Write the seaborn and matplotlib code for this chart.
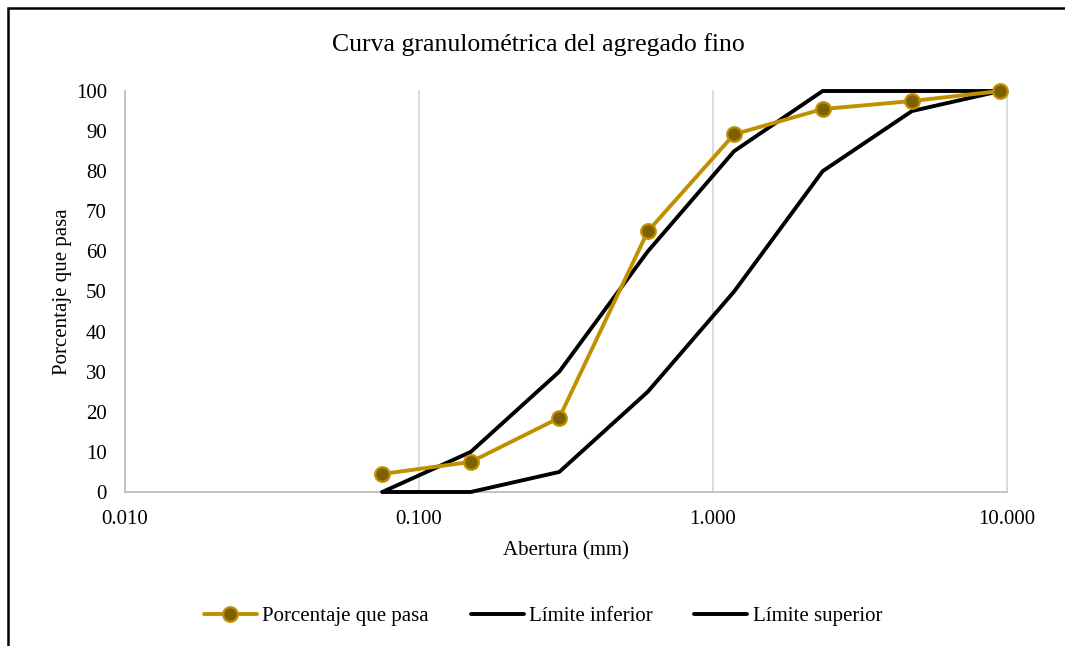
import matplotlib
matplotlib.use("Agg")
import matplotlib.pyplot as plt
import seaborn as sns
import pandas as pd
from matplotlib.lines import Line2D
from matplotlib.patches import Rectangle

sns.set_theme(style="white")
plt.rcParams['font.family'] = ['Liberation Serif', 'DejaVu Serif']
plt.rcParams['text.color'] = 'black'
plt.rcParams['axes.labelcolor'] = 'black'

abertura = [0.075, 0.15, 0.3, 0.6, 1.18, 2.36, 4.75, 9.5]
porcentaje = [4.5, 7.5, 18.5, 65.0, 89.2, 95.5, 97.5, 100.0]
limite_inferior = [0, 0, 5, 25, 50, 80, 95, 100]
limite_superior = [0, 10, 30, 60, 85, 100, 100, 100]
x_ticks = [0.01, 0.1, 1, 10]
x_tick_labels = ['0.010', '0.100', '1.000', '10.000']
y_ticks = list(range(0, 101, 10))

df = pd.DataFrame({'Abertura': abertura, 'Porcentaje': porcentaje,
                   'Inf': limite_inferior, 'Sup': limite_superior})

fig = plt.figure(figsize=(10.65, 6.46), dpi=100)
ax = fig.add_axes([125/1065, 1-492/646, (1007-125)/1065, (492-91)/646])

gold = '#BF9000'
dark = '#7F6000'
lw = 2.8
sns.lineplot(data=df, x='Abertura', y='Inf', ax=ax, color='black', linewidth=lw, zorder=3)
sns.lineplot(data=df, x='Abertura', y='Sup', ax=ax, color='black', linewidth=lw, zorder=3)
sns.lineplot(data=df, x='Abertura', y='Porcentaje', ax=ax, color=gold, linewidth=lw,
             marker='o', markersize=10.5, markerfacecolor=dark, markeredgecolor=gold,
             markeredgewidth=1.6, zorder=4)

ax.set_xscale('log')
ax.set_xlim(0.01, 10)
ax.set_ylim(0, 100)
ax.set_xticks(x_ticks)
ax.set_xticklabels(x_tick_labels)
ax.minorticks_off()
ax.set_yticks(y_ticks)
ax.tick_params(axis='both', length=0, labelsize=15, colors='black')
ax.tick_params(axis='x', pad=13)
ax.tick_params(axis='y', pad=13)
for x in x_ticks[1:]:
    ax.axvline(x, color='#D9D9D9', linewidth=1.3, zorder=1)
for s in ['top', 'right']:
    ax.spines[s].set_visible(False)
for s in ['left', 'bottom']:
    ax.spines[s].set_color('#BFBFBF')
    ax.spines[s].set_linewidth(1.3)
ax.set_xlabel('Abertura (mm)', fontsize=15, labelpad=9)
ax.set_ylabel('Porcentaje que pasa', fontsize=15, labelpad=3)
for line in ax.lines:
    line.set_clip_on(False)

fig.text(538/1065, 1-45/646, 'Curva granulométrica del agregado fino', ha='center', va='center', fontsize=18.5)

handles = [Line2D([], [], color=gold, linewidth=lw, marker='o', markersize=10.5,
                  markerfacecolor=dark, markeredgecolor=gold, markeredgewidth=1.6),
           Line2D([], [], color='black', linewidth=lw),
           Line2D([], [], color='black', linewidth=lw)]
fig.legend(handles, ['Porcentaje que pasa', 'Límite inferior', 'Límite superior'],
           loc='center', bbox_to_anchor=(543/1065, 1-616/646), ncol=3, frameon=False,
           fontsize=15, handlelength=2.55, handletextpad=0.25, columnspacing=2.0)

fig.patches.append(Rectangle((8/1065, -0.1), 1.2, 1-8/646+0.1, transform=fig.transFigure,
                             fill=False, edgecolor='black', linewidth=1.8))

fig.savefig('out.png', dpi=100)
